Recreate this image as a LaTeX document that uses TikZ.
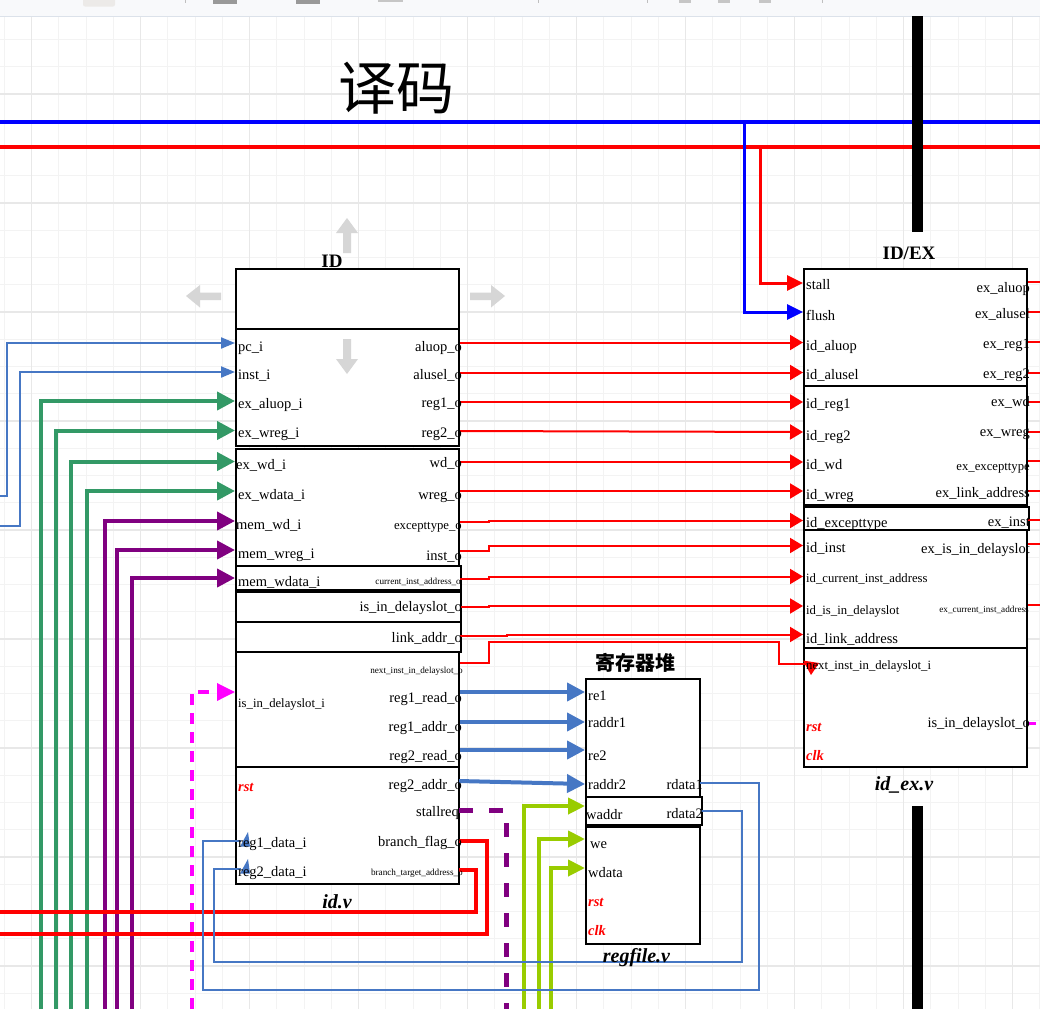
\documentclass[tikz,border=0pt]{standalone}
\usepackage{fontspec}
\setmainfont{Liberation Serif}
\newfontfamily\cjk{Noto Sans CJK SC}
\usetikzlibrary{arrows.meta}
\definecolor{gmin}{HTML}{F3F3F3}
\definecolor{gmaj}{HTML}{E8E8E8}
\definecolor{tbbg}{HTML}{F8F9FB}
\definecolor{tbln}{HTML}{DCE2EA}
\definecolor{sblue}{HTML}{4677C4}
\definecolor{sgreen}{HTML}{339966}
\definecolor{purp}{HTML}{800080}
\definecolor{ygreen}{HTML}{99CC00}
\definecolor{hgray}{HTML}{D6D6D6}
\definecolor{mag}{HTML}{FF00FF}
\definecolor{pred}{HTML}{FF0000}
\definecolor{pblue}{HTML}{0000FF}
\newcommand\portL[5][lbl]{\node[#1, anchor=west] (#2) at (#3,#4+1) {#5};}
\newcommand\portR[5][lbl]{\node[#1, anchor=east] (#2) at (#3,#4+1) {#5};}
\newcommand\blk[5]{\node[blk, anchor=north west, minimum width=#4pt, minimum height=#5pt] (#1) at (#2,#3) {};}
\begin{document}
\begin{tikzpicture}[x=1pt,y=-1pt,
 lbl/.style={inner sep=0pt, font=\fontsize{14.5}{16}\selectfont, text height=10.1pt, text depth=2.9pt},
 lblm/.style={inner sep=0pt, font=\fontsize{12.7}{14}\selectfont, text height=8.9pt, text depth=2.5pt},
 lbls/.style={inner sep=0pt, font=\fontsize{9.2}{10}\selectfont, text height=6.4pt, text depth=1.8pt},
 rlbl/.style={inner sep=0pt, font=\fontsize{14.5}{16}\selectfont\bfseries\itshape, text=pred, text height=10.1pt, text depth=2.9pt},
 ttl/.style={inner sep=0pt, anchor=base, font=\fontsize{19}{20}\selectfont\bfseries},
 fname/.style={inner sep=0pt, anchor=base, font=\fontsize{20}{22}\selectfont\bfseries\itshape},
 blk/.style={draw, fill=white, line width=2pt, inner sep=0pt},
 redc/.style={draw=pred, line width=2pt, -{Triangle[length=13pt,width=15pt]}},
 redbig/.style={draw=pred, line width=3pt, -{Triangle[length=16pt,width=15pt]}},
 bluebig/.style={draw=pblue, line width=3pt, -{Triangle[length=16pt,width=15pt]}},
 bthin/.style={draw=sblue, line width=2pt, -{Triangle[length=14pt,width=11pt]}},
 bfine/.style={draw=sblue, line width=1.5pt},
 bthick/.style={draw=sblue, line width=4pt, -{Triangle[length=18pt,width=18pt]}},
 grn/.style={draw=sgreen, line width=4pt, -{Triangle[length=18pt,width=18pt]}},
 prp/.style={draw=purp, line width=4pt, -{Triangle[length=18pt,width=18pt]}},
 ygr/.style={draw=ygreen, line width=4pt, -{Triangle[length=17pt,width=16pt]}},
 rback/.style={draw=pred, line width=4pt},
 stub/.style={draw=pred, line width=2pt},
 hnd/.style={fill=hgray}
]
\useasboundingbox (0,0) rectangle (1040,1009);
\fill[white] (0,0) rectangle (1040,1009);
% grid
\foreach \k in {0,...,38}{\draw[gmin,line width=1pt] ({4.35+27.25*\k},16) -- ({4.35+27.25*\k},1009);}
\foreach \k in {1,...,36}{\draw[gmin,line width=1pt] (0,{12.25+27.25*\k}) -- (1040,{12.25+27.25*\k});}
\foreach \k in {0,...,9}{\draw[gmaj,line width=1.2pt] ({31.6+109*\k},16) -- ({31.6+109*\k},1009);}
\foreach \k in {0,...,8}{\draw[gmaj,line width=1.2pt] (0,{94+109*\k}) -- (1040,{94+109*\k});}
% toolbar
\fill[tbbg] (0,0) rectangle (1040,16);
\draw[tbln,line width=1pt] (0,16) -- (1040,16);
\fill[fill={rgb,255:red,236;green,234;blue,232}, rounded corners=2pt] (83,-3) rectangle (115,6.5);
\fill[gray!80] (213,0) rectangle (237,4);
\fill[gray!80] (296,0) rectangle (320,4);
\fill[gray!45] (378,0) rectangle (403,1.5);
\foreach \xx in {185,538,647,822}{\draw[gray!50,line width=0.8pt] (\xx,0) -- (\xx,3);}
\foreach \xx in {679,718,759}{\fill[gray!45] (\xx,0) rectangle ++(12,3);}

% title
\node[font=\cjk\fontsize{58}{58}\selectfont, inner sep=0pt] (title) at (396,88) {译码};

% buses
\coordinate (busB-l) at (0,122); \coordinate (busB-r) at (1040,122);
\coordinate (busR-l) at (0,147); \coordinate (busR-r) at (1040,147);
\draw[pblue, line width=3.5pt] (busB-l) -- (busB-r);
\draw[pred, line width=4pt] (busR-l) -- (busR-r);
% pipeline bar
\fill[black] (912,16) rectangle (923,232);
\fill[black] (912,806) rectangle (923,1009);

% ID blocks
\blk{idH}{235}{268}{223}{60}
\blk{idA}{235}{328}{223}{117}
\blk{idB}{235}{448}{223}{117}
\blk{idC}{235}{565}{225}{24}
\blk{idD}{235}{591}{225}{30}
\blk{idE}{235}{621}{225}{30}
\blk{idF}{235}{651}{223}{115}
\blk{idG}{235}{766}{223}{117}
% ID/EX blocks
\blk{ieA}{803}{268}{223}{117}
\blk{ieB}{803}{385}{223}{119}
\blk{ieC}{803}{506}{225}{23}
\blk{ieD}{803}{529}{223}{118}
\blk{ieE}{803}{647}{223}{119}
% regfile blocks
\blk{rfA}{585}{678}{114}{118}
\blk{rfB}{585}{796}{116}{28}
\blk{rfC}{585}{826}{114}{117}

% stall / flush
\coordinate (bus-flush) at (744,122); \coordinate (i-flush) at (803,312);
\coordinate (bus-stall) at (760,147); \coordinate (i-stall) at (803,283);
\draw[bluebig] (bus-flush) |- (i-flush);
\draw[redbig] (bus-stall) |- (i-stall);

% ID -> ID/EX
\coordinate (o-aluop) at (460,342.5); \coordinate (i-aluop) at (803,342.5);
\coordinate (o-alusel) at (460,372.5); \coordinate (i-alusel) at (803,372.5);
\coordinate (o-reg1) at (460,402); \coordinate (i-reg1) at (803,402);
\coordinate (o-reg2) at (460,431); \coordinate (i-reg2) at (803,432);
\coordinate (o-wd) at (460,462); \coordinate (i-wd) at (803,462);
\coordinate (o-wreg) at (460,491); \coordinate (i-wreg) at (803,491);
\coordinate (o-exc) at (460,522); \coordinate (i-exc) at (803,520.5);
\coordinate (o-inst) at (460,551); \coordinate (i-inst) at (803,545.5);
\coordinate (o-cia) at (460,578.5); \coordinate (i-cia) at (803,576.5);
\coordinate (o-isds) at (460,607); \coordinate (i-isds) at (803,606);
\coordinate (o-link) at (460,636); \coordinate (i-link) at (803,634.5);
\coordinate (o-next) at (460,663); \coordinate (i-next) at (806,664);
\draw[redc] (o-aluop) -- (i-aluop);
\draw[redc] (o-alusel) -- (i-alusel);
\draw[redc] (o-reg1) -- (i-reg1);
\draw[redc] (o-reg2) -- (i-reg2);
\draw[redc] (o-wd) -- (i-wd);
\draw[redc] (o-wreg) -- (i-wreg);
\draw[redc] (o-exc) -- ++(29,0) |- (i-exc);
\draw[redc] (o-inst) -- ++(29,0) |- (i-inst);
\draw[redc] (o-cia) -- ++(29,0) |- (i-cia);
\draw[redc] (o-isds) -- ++(29,0) |- (i-isds);
\draw[redc] (o-link) -- ++(47,0) |- (i-link);
\draw[stub] (o-next) -- ++(29,0) |- (779,642) |- (i-next);
\fill[pred] (803,660.5) -- (819,663) -- (811,675) -- cycle;

% ID/EX outputs
\foreach \yy [count=\n] in {282,312,342,373,402,432,461,491,520,544,605}{
  \coordinate (eo\n) at (1028,\yy); \coordinate (ee\n) at (1040,\yy);
  \draw[stub] (eo\n) -- (ee\n);}
\coordinate (eo-mg) at (1028,723); \coordinate (ee-mg) at (1036,723);
\draw[mag, line width=3pt] (eo-mg) -- (ee-mg);

% left inputs of ID
\coordinate (s-pc) at (0,496); \coordinate (i-pc) at (235,343);
\coordinate (s-inst) at (0,526); \coordinate (i-instin) at (235,372);
\draw[bthin] (s-pc) -- ++(7,0) |- (i-pc);
\draw[bthin] (s-inst) -- ++(20,0) |- (i-instin);
\coordinate (s-exaluop) at (41,1009); \coordinate (i-exaluop) at (235,401);
\coordinate (s-exwreg) at (56,1009); \coordinate (i-exwreg) at (235,430.5);
\coordinate (s-exwd) at (71,1009); \coordinate (i-exwd) at (235,461.5);
\coordinate (s-exwdata) at (87,1009); \coordinate (i-exwdata) at (235,491);
\coordinate (s-memwd) at (105,1009); \coordinate (i-memwd) at (235,521);
\coordinate (s-memwreg) at (117,1009); \coordinate (i-memwreg) at (235,550);
\coordinate (s-memwdata) at (132,1009); \coordinate (i-memwdata) at (235,578);
\draw[grn] (s-exaluop) |- (i-exaluop);
\draw[grn] (s-exwreg) |- (i-exwreg);
\draw[grn] (s-exwd) |- (i-exwd);
\draw[grn] (s-exwdata) |- (i-exwdata);
\draw[prp] (s-memwd) |- (i-memwd);
\draw[prp] (s-memwreg) |- (i-memwreg);
\draw[prp] (s-memwdata) |- (i-memwdata);
\coordinate (s-mg) at (192,1009); \coordinate (i-mg) at (235,692);
\draw[mag, line width=3.5pt, dash pattern=on 11pt off 8pt, -{Triangle[length=18pt,width=17pt]}] (s-mg) |- (i-mg);

% branch outputs back left
\coordinate (o-bta) at (459,869.5); \coordinate (d-bta) at (0,912);
\coordinate (o-bf) at (459,841); \coordinate (d-bf) at (0,934);
\draw[rback] (o-bta) -- ++(17,0) |- (d-bta);
\draw[rback] (o-bf) -- ++(28,0) |- (d-bf);

% ID -> regfile
\coordinate (o-r1r) at (460,692); \coordinate (i-re1) at (585,692);
\coordinate (o-r1a) at (460,722); \coordinate (i-raddr1) at (585,722);
\coordinate (o-r2r) at (460,750); \coordinate (i-re2) at (585,750);
\coordinate (o-r2a) at (459,781); \coordinate (i-raddr2) at (585,784);
\draw[bthick] (o-r1r) -- (i-re1);
\draw[bthick] (o-r1a) -- (i-raddr1);
\draw[bthick] (o-r2r) -- (i-re2);
\draw[bthick] (o-r2a) -- (i-raddr2);
% stallreq
\coordinate (o-stall) at (459,810); \coordinate (d-stall) at (506,1009);
\draw[purp, line width=5pt, dash pattern=on 14pt off 16pt] (o-stall) -| (d-stall);
% write port
\coordinate (s-waddr) at (524,1009); \coordinate (i-waddr) at (585,806);
\coordinate (s-we) at (539,1009); \coordinate (i-we) at (585,839);
\coordinate (s-wdata) at (551,1009); \coordinate (i-wdata) at (585,868);
\draw[ygr] (s-waddr) |- (i-waddr);
\draw[ygr] (s-we) |- (i-we);
\draw[ygr] (s-wdata) |- (i-wdata);
% read data back to ID
\coordinate (o-rd1) at (700,783); \coordinate (i-r1d) at (241,841);
\coordinate (o-rd2) at (701,811); \coordinate (i-r2d) at (241,869);
\draw[bfine] (o-rd1) -- (759,783) -- (759,990) -- (203,990) -- (203,841) -- (i-r1d);
\draw[bfine] (o-rd2) -- (742,811) -- (742,962) -- (214,962) -- (214,869) -- (i-r2d);
\fill[sblue] (240,846.5) -- (250,846.5) -- (248,832) -- cycle;
\fill[sblue] (240,873.5) -- (250,873.5) -- (248,859) -- cycle;

% titles
\node[ttl] (idT) at (332,267.5) {ID};
\node[ttl] (ieT) at (909,259) {ID/EX};
\node[inner sep=0pt, font=\cjk\bfseries\fontsize{20}{20}\selectfont] (rfT) at (635,663) {寄存器堆};
\node[fname] (idF) at (337,908) {id.v};
\node[fname] (ieF) at (904,790) {id\_ex.v};
\node[fname] (rfF) at (636.5,962) {regfile.v};

% ID labels
\portL{l1}{238}{346.5}{pc\_i}
\portL{l2}{238}{375}{inst\_i}
\portL{l3}{238}{403.5}{ex\_aluop\_i}
\portL{l4}{238}{433}{ex\_wreg\_i}
\portL{l5}{236}{464.5}{ex\_wd\_i}
\portL{l6}{238}{494.5}{ex\_wdata\_i}
\portL{l7}{236}{525}{mem\_wd\_i}
\portL{l8}{238}{554}{mem\_wreg\_i}
\portL{l9}{238}{581.5}{mem\_wdata\_i}
\portL[lblm]{l10}{238}{703}{is\_in\_delayslot\_i}
\portL[rlbl]{l11}{238}{786.5}{rst}
\portL{l12}{238}{843}{reg1\_data\_i}
\portL{l13}{238}{872}{reg2\_data\_i}
\portR{r1}{462}{346.5}{aluop\_o}
\portR{r2}{462}{375}{alusel\_o}
\portR{r3}{462}{403}{reg1\_o}
\portR{r4}{462}{433}{reg2\_o}
\portR{r5}{462}{463}{wd\_o}
\portR{r6}{462}{494.5}{wreg\_o}
\portR[lblm]{r7}{462}{525.5}{excepttype\_o}
\portR{r8}{462}{555.5}{inst\_o}
\portR[lbls]{r9}{461}{581}{current\_inst\_address\_o}
\portR{r10}{462}{607}{is\_in\_delayslot\_o}
\portR{r11}{462}{638}{link\_addr\_o}
\portR[lbls]{r12}{463}{670}{next\_inst\_in\_delayslot\_o}
\portR{r13}{462}{697.5}{reg1\_read\_o}
\portR{r14}{462}{727}{reg1\_addr\_o}
\portR{r15}{462}{755.5}{reg2\_read\_o}
\portR{r16}{462}{785}{reg2\_addr\_o}
\portR{r17}{459}{811.5}{stallreq}
\portR{r18}{462}{841.5}{branch\_flag\_o}
\portR[lbls]{r19}{463}{872}{branch\_target\_address\_o}

% ID/EX labels
\portL{el1}{806}{285}{stall}
\portL{el2}{806}{315.5}{flush}
\portL{el3}{806}{345.5}{id\_aluop}
\portL{el4}{806}{374.5}{id\_alusel}
\portL{el5}{806}{403.5}{id\_reg1}
\portL{el6}{806}{435.5}{id\_reg2}
\portL{el7}{806}{465}{id\_wd}
\portL{el8}{806}{495}{id\_wreg}
\portL{el9}{806}{523}{id\_excepttype}
\portL{el10}{806}{548}{id\_inst}
\portL[lblm]{el11}{806}{578.5}{id\_current\_inst\_address}
\portL[lblm]{el12}{806}{610.5}{id\_is\_in\_delayslot}
\portL{el13}{806}{638.5}{id\_link\_address}
\portL[lblm]{el14}{806}{665.5}{next\_inst\_in\_delayslot\_i}
\portL[rlbl]{el15}{806}{726.5}{rst}
\portL[rlbl]{el16}{806}{755.5}{clk}
\portR{er1}{1030}{287.5}{ex\_aluop}
\portR{er2}{1030}{314}{ex\_alusel}
\portR{er3}{1030}{344}{ex\_reg1}
\portR{er4}{1030}{374}{ex\_reg2}
\portR{er5}{1030}{401.5}{ex\_wd}
\portR{er6}{1030}{432}{ex\_wreg}
\portR[lblm]{er7}{1030}{466}{ex\_excepttype}
\portR{er8}{1030}{492.5}{ex\_link\_address}
\portR{er9}{1030}{521.5}{ex\_inst}
\portR{er10}{1030}{548.5}{ex\_is\_in\_delayslot}
\portR[lbls]{er11}{1029}{609}{ex\_current\_inst\_address}
\portR{er12}{1030}{723}{is\_in\_delayslot\_o}

% regfile labels
\portL{fl1}{588}{696}{re1}
\portL{fl2}{588}{723}{raddr1}
\portL{fl3}{588}{756}{re2}
\portL{fl4}{588}{785}{raddr2}
\portL{fl5}{586}{815}{waddr}
\portL{fl6}{590}{844}{we}
\portL{fl7}{588}{873}{wdata}
\portL[rlbl]{fl8}{588}{902}{rst}
\portL[rlbl]{fl9}{588}{931}{clk}
\portR{fr1}{703}{785}{rdata1}
\portR{fr2}{703}{814}{rdata2}

% move handles
\fill[hnd] (347,218) -- (358,233) -- (351,233) -- (351,253) -- (343,253) -- (343,233) -- (336,233) -- cycle;
\fill[hnd] (347,374) -- (358,359) -- (351,359) -- (351,339) -- (343,339) -- (343,359) -- (336,359) -- cycle;
\fill[hnd] (186,296) -- (200,285) -- (200,292.5) -- (221,292.5) -- (221,300) -- (200,300) -- (200,307.5) -- cycle;
\fill[hnd] (505,296) -- (491,285) -- (491,292.5) -- (470,292.5) -- (470,300) -- (491,300) -- (491,307.5) -- cycle;
\end{tikzpicture}
\end{document}
